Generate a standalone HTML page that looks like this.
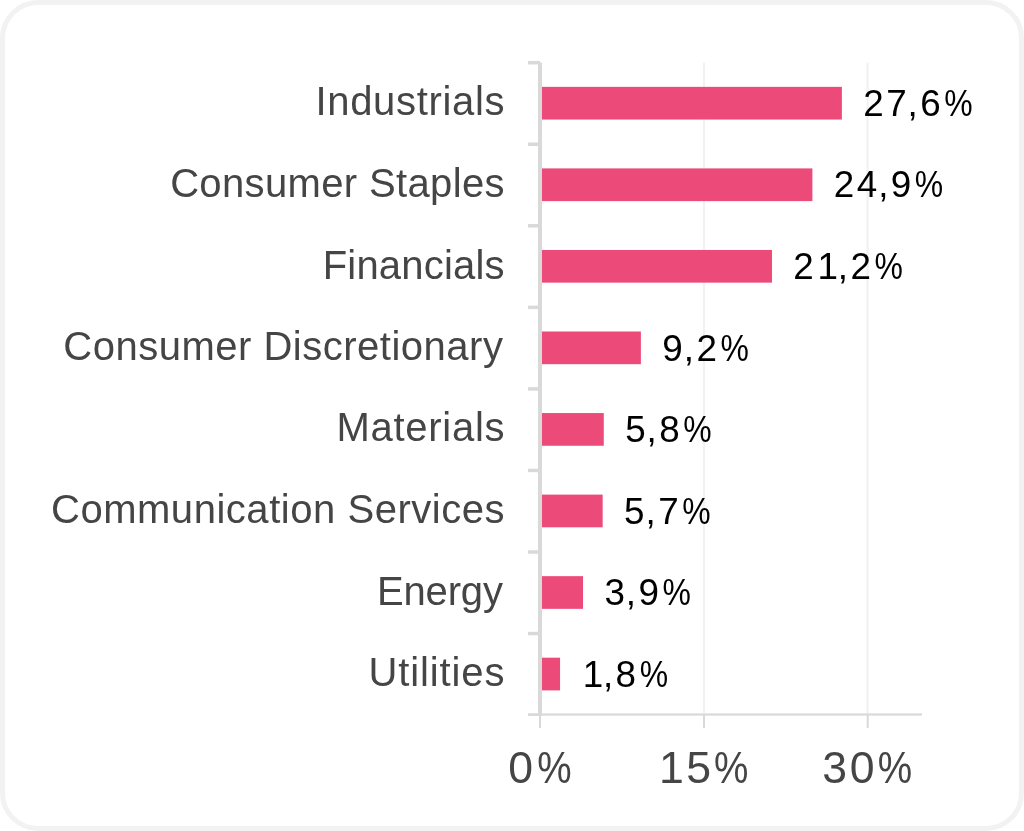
<!DOCTYPE html>
<html lang="en"><head><meta charset="utf-8"><title>Sector allocation</title>
<style>
html,body{margin:0;padding:0;background:#fff;}
body{width:1024px;height:831px;overflow:hidden;position:relative;font-family:"Liberation Sans",sans-serif;}
.card{position:absolute;left:0;top:0;width:1024px;height:831px;box-sizing:border-box;border:5px solid #f2f2f2;border-radius:38px;background:#fff;}
svg{position:absolute;left:0;top:0;}
text{font-family:"Liberation Sans",sans-serif;}
</style></head><body>
<div class="card"></div>
<svg width="1024" height="831" viewBox="0 0 1024 831">
<g fill="#f2f2f2">
<rect x="702.90" y="62.5" width="2.2" height="651.5"/>
<rect x="866.50" y="62.5" width="2.2" height="651.5"/>
</g>
<g fill="#d9d9d9">
<rect x="540" y="713.4" width="382" height="2.2"/>
<rect x="539.00" y="715" width="2" height="13"/>
<rect x="703.00" y="715" width="2" height="13"/>
<rect x="866.70" y="715" width="2" height="13"/>
<rect x="538" y="62.5" width="4" height="653.5"/>
<rect x="528" y="60.95" width="12" height="3.5"/>
<rect x="528" y="142.50" width="12" height="3.5"/>
<rect x="528" y="224.05" width="12" height="3.5"/>
<rect x="528" y="305.60" width="12" height="3.5"/>
<rect x="528" y="387.15" width="12" height="3.5"/>
<rect x="528" y="468.70" width="12" height="3.5"/>
<rect x="528" y="550.25" width="12" height="3.5"/>
<rect x="528" y="631.80" width="12" height="3.5"/>
<rect x="528" y="713.2" width="12" height="2.8"/>
</g>
<g fill="#ec4b7a">
<rect x="542" y="86.85" width="299.88" height="32.7"/>
<rect x="542" y="168.40" width="270.39" height="32.7"/>
<rect x="542" y="249.95" width="229.97" height="32.7"/>
<rect x="542" y="331.50" width="98.89" height="32.7"/>
<rect x="542" y="413.05" width="61.76" height="32.7"/>
<rect x="542" y="494.60" width="60.66" height="32.7"/>
<rect x="542" y="576.15" width="41.00" height="32.7"/>
<rect x="542" y="657.70" width="18.06" height="32.7"/>
</g>
<text id="c0" x="315.44" y="115.00" font-size="40" fill="#454545" textLength="189.06" lengthAdjust="spacing">Industrials</text>
<text id="c1" x="170.13" y="197.00" font-size="40" fill="#454545" textLength="334.37" lengthAdjust="spacing">Consumer Staples</text>
<text id="c2" x="322.72" y="279.00" font-size="40" fill="#454545" textLength="181.78" lengthAdjust="spacing">Financials</text>
<text id="c3" x="63.30" y="360.00" font-size="40" fill="#454545" textLength="439.65" lengthAdjust="spacing">Consumer Discretionary</text>
<text id="c4" x="336.39" y="441.00" font-size="40" fill="#454545" textLength="168.11" lengthAdjust="spacing">Materials</text>
<text id="c5" x="50.97" y="523.00" font-size="40" fill="#454545" textLength="453.53" lengthAdjust="spacing">Communication Services</text>
<text id="c6" x="376.90" y="605.00" font-size="40" fill="#454545" textLength="126.05" lengthAdjust="spacing">Energy</text>
<text id="c7" x="368.41" y="686.00" font-size="40" fill="#454545" textLength="136.09" lengthAdjust="spacing">Utilities</text>
<text id="v0" x="863.25 886.13 907.62 920.17" y="116.00" font-size="36.8" fill="#000">27,6<tspan x="944.35" textLength="28.37" lengthAdjust="spacingAndGlyphs">%</tspan></text>
<text id="v1" x="833.76 856.77 878.13 890.82" y="197.00" font-size="36.8" fill="#000">24,9<tspan x="914.86" textLength="28.37" lengthAdjust="spacingAndGlyphs">%</tspan></text>
<text id="v2" x="793.34 817.50 837.71 850.39" y="279.00" font-size="36.8" fill="#000">21,2<tspan x="874.44" textLength="28.37" lengthAdjust="spacingAndGlyphs">%</tspan></text>
<text id="v3" x="662.27 683.73 696.41" y="361.00" font-size="36.8" fill="#000">9,2<tspan x="720.46" textLength="28.37" lengthAdjust="spacingAndGlyphs">%</tspan></text>
<text id="v4" x="625.16 646.59 659.27" y="442.00" font-size="36.8" fill="#000">5,8<tspan x="683.32" textLength="28.37" lengthAdjust="spacingAndGlyphs">%</tspan></text>
<text id="v5" x="624.07 645.50 658.16" y="524.00" font-size="36.8" fill="#000">5,7<tspan x="682.23" textLength="28.37" lengthAdjust="spacingAndGlyphs">%</tspan></text>
<text id="v6" x="604.48 625.84 638.53" y="605.00" font-size="36.8" fill="#000">3,9<tspan x="662.57" textLength="28.37" lengthAdjust="spacingAndGlyphs">%</tspan></text>
<text id="v7" x="582.69 602.90 615.58" y="687.00" font-size="36.8" fill="#000">1,8<tspan x="639.63" textLength="28.37" lengthAdjust="spacingAndGlyphs">%</tspan></text>
<text id="t0" x="508.25" y="783.00" font-size="44.6" fill="#454545">0<tspan x="537.36" textLength="34.38" lengthAdjust="spacingAndGlyphs">%</tspan></text>
<text id="t1" x="659.02 686.24" y="783.00" font-size="44.6" fill="#454545">15<tspan x="714.06" textLength="34.38" lengthAdjust="spacingAndGlyphs">%</tspan></text>
<text id="t2" x="822.13 849.80" y="783.00" font-size="44.6" fill="#454545">30<tspan x="877.86" textLength="34.38" lengthAdjust="spacingAndGlyphs">%</tspan></text>
</svg>
</body></html>
